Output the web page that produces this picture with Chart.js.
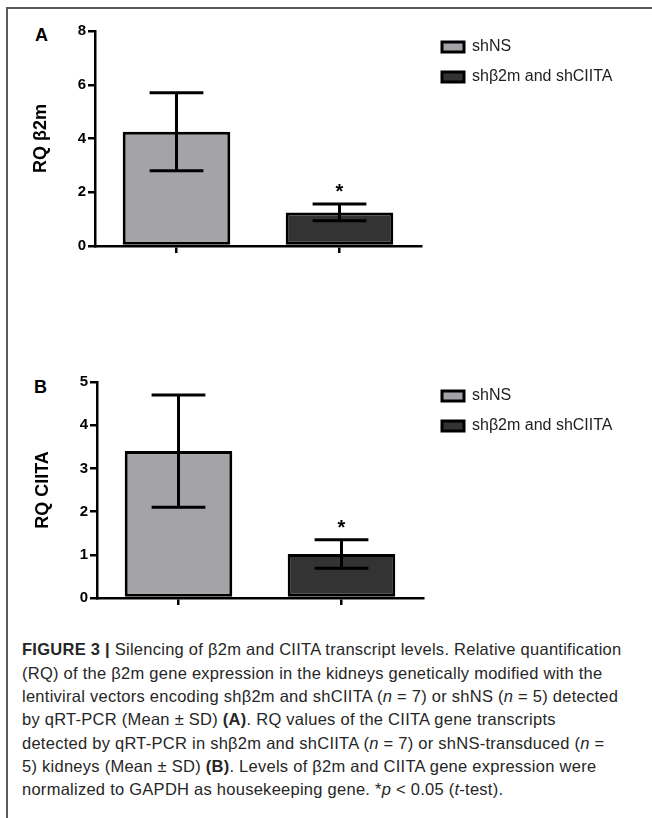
<!DOCTYPE html>
<html><head><meta charset="utf-8">
<script src="https://cdn.jsdelivr.net/npm/chart.js@4.4.1/dist/chart.umd.min.js"></script>
<style>
html,body{margin:0;padding:0;background:#fff;}
#wrap{position:relative;width:652px;height:818px;overflow:hidden;font-family:"Liberation Sans",Arial,sans-serif;}
.frameTop{position:absolute;left:6px;top:7px;width:646px;height:2px;background:#5a5a5a;}
.frameLeft{position:absolute;left:6px;top:7px;width:2px;height:811px;background:#5a5a5a;}
canvas{position:absolute;left:0;}
.panel{position:absolute;font:bold 18px/18px "Liberation Sans",Arial,sans-serif;color:#000;}
.cap{position:absolute;left:22px;white-space:nowrap;font-family:"Liberation Sans",Arial,sans-serif;font-size:16.5px;line-height:20px;color:#262626;}
</style></head><body>
<div id="wrap">
  <div class="frameTop"></div>
  <div class="frameLeft"></div>
  <div class="panel" style="left:35px;top:26px;">A</div>
  <div class="panel" style="left:34px;top:378px;">B</div>
  <canvas id="chartA" width="652" height="280" style="top:0;width:652px;height:280px;"></canvas>
  <canvas id="chartB" width="652" height="290" style="top:340px;width:652px;height:290px;"></canvas>
  <div class="cap" style="top:639px;"><b>FIGURE 3 |</b> Silencing of β2m and CIITA transcript levels. Relative quantification</div>
  <div class="cap" style="top:663px;">(RQ) of the β2m gene expression in the kidneys genetically modified with the</div>
  <div class="cap" style="top:686px;">lentiviral vectors encoding shβ2m and shCIITA (<i>n</i> = 7) or shNS (<i>n</i> = 5) detected</div>
  <div class="cap" style="top:709px;">by qRT-PCR (Mean ± SD) <b>(A)</b>. RQ values of the CIITA gene transcripts</div>
  <div class="cap" style="top:733px;">detected by qRT-PCR in shβ2m and shCIITA (<i>n</i> = 7) or shNS-transduced (<i>n</i> =</div>
  <div class="cap" style="top:756px;">5) kidneys (Mean ± SD) <b>(B)</b>. Levels of β2m and CIITA gene expression were</div>
  <div class="cap" style="top:779px;">normalized to GAPDH as housekeeping gene. *<i>p</i> &lt; 0.05 (<i>t</i>-test).</div>
</div>
<script>
// ---------- data ----------
const groups = ['shNS', 'shβ2m and shCIITA'];
const b2mMean = [4.25, 1.25];
const b2mSD = [1.45, 0.31];
const ciitaMean = [3.4, 1.02];
const ciitaSD = [1.3, 0.33];
const significance = ['', '*'];
const b2mTicks = [0, 2, 4, 6, 8];
const ciitaTicks = [0, 1, 2, 3, 4, 5];

// ---------- caption fitting (layout only: one shared letter-spacing) ----------
const capWidths = [628, 583, 627, 476, 628, 550, 456];
(function () {
  const els = [...document.querySelectorAll('.cap')];
  let sumW = 0, sumT = 0, sumN = 0;
  els.forEach((el, i) => {
    el.style.letterSpacing = '0px';
    sumW += el.getBoundingClientRect().width;
    sumT += capWidths[i];
    sumN += el.textContent.length;
  });
  const ls = (sumT - sumW) / sumN;
  els.forEach(el => { el.style.letterSpacing = ls + 'px'; });
})();

// ---------- plugins ----------
const fixLayout = {
  id: 'fixLayout',
  beforeLayout(chart, args, o) {
    const lg = chart.legend;
    if (lg && !lg.__patched) {
      const f = lg.fit;
      lg.fit = function () { f.call(this); this.width = o.legendWidth; };
      lg.__patched = true;
    }
  },
  afterLayout(chart, args, o) {
    const lg = chart.legend;
    if (!lg) return;
    const dx = o.legendLeft - lg.left, dy = o.legendTop - lg.top;
    lg.left += dx; lg.right += dx; lg.top += dy; lg.bottom += dy;
  }
};

const errorBars = {
  id: 'errorBars',
  afterDatasetsDraw(chart) {
    const ctx = chart.ctx, ys = chart.scales.y;
    chart.data.datasets.forEach((ds, di) => {
      const meta = chart.getDatasetMeta(di);
      meta.data.forEach((bar, i) => {
        const v = ds.data[i];
        if (v == null) return;
        const e = ds.errors[i];
        const yTop = ys.getPixelForValue(v + e), yBot = ys.getPixelForValue(v - e);
        const half = bar.width / 4;
        ctx.save();
        ctx.strokeStyle = '#000';
        ctx.lineWidth = 3;
        ctx.beginPath();
        ctx.moveTo(bar.x, yTop); ctx.lineTo(bar.x, yBot);
        ctx.moveTo(bar.x - half, yTop); ctx.lineTo(bar.x + half, yTop);
        ctx.moveTo(bar.x - half, yBot); ctx.lineTo(bar.x + half, yBot);
        ctx.stroke();
        const mark = ds.marks[i];
        if (mark) {
          ctx.fillStyle = '#000';
          ctx.font = 'bold 20px "Liberation Sans", Arial, sans-serif';
          ctx.textAlign = 'center';
          ctx.textBaseline = 'alphabetic';
          ctx.fillText(mark, bar.x, yTop - 6);
        }
        ctx.restore();
      });
    });
  }
};

const FONT = '"Liberation Sans", Arial, sans-serif';
const fillColors = ['#a4a3a7', '#333333'];

function buildChart(id, means, sds, tickVals, yTitle, L) {
  const datasets = groups.map((g, k) => ({
    label: g,
    data: groups.map((_, i) => (i === k ? means[i] : null)),
    errors: groups.map((_, i) => (i === k ? sds[i] : null)),
    marks: groups.map((_, i) => (i === k ? significance[i] : '')),
    backgroundColor: fillColors[k],
    borderColor: '#000',
    borderWidth: 3,
    borderSkipped: false,
    grouped: false,
    barPercentage: 0.66,
    categoryPercentage: 1
  }));
  return new Chart(document.getElementById(id), {
    type: 'bar',
    data: { labels: groups, datasets },
    options: {
      responsive: false,
      animation: false,
      devicePixelRatio: 1,
      layout: { padding: { top: L.padTop, left: 0, right: 0, bottom: 0 } },
      scales: {
        x: {
          offset: true,
          grid: { display: true, drawOnChartArea: false, drawTicks: true, tickLength: 7, offset: false, color: '#000', lineWidth: 2.5 },
          border: { display: true, color: '#000', width: 2.5 },
          ticks: { display: false },
          afterFit(s) { s.height = L.xAxisH; }
        },
        y: {
          min: tickVals[0],
          max: tickVals[tickVals.length - 1],
          afterBuildTicks(s) { s.ticks = tickVals.map(v => ({ value: v })); },
          grid: { display: true, drawOnChartArea: false, drawTicks: true, tickLength: 7, color: '#000', lineWidth: 2.5 },
          border: { display: true, color: '#000', width: 2.5 },
          ticks: { color: '#000', padding: 2, font: { family: FONT, size: 15, weight: 'bold' } },
          title: { display: true, text: yTitle, color: '#000', font: { family: FONT, size: 18, weight: 'bold' }, padding: { top: L.titlePad, bottom: 0 } },
          afterFit(s) { s.width = L.axisLeft; }
        }
      },
      plugins: {
        tooltip: { enabled: false },
        legend: {
          display: true,
          position: 'right',
          align: 'start',
          labels: { color: '#222', boxWidth: 22, boxHeight: 10, padding: 14, font: { family: FONT, size: 16 } }
        },
        fixLayout: { legendWidth: L.legendWidth, legendLeft: L.legendLeft, legendTop: L.legendTop }
      }
    },
    plugins: [fixLayout, errorBars]
  });
}

buildChart('chartA', b2mMean, b2mSD, b2mTicks, 'RQ β2m',
  { padTop: 31, xAxisH: 34, axisLeft: 95, legendWidth: 231, legendLeft: 428, legendTop: 25, titlePad: 30 });
buildChart('chartB', ciitaMean, ciitaSD, ciitaTicks, 'RQ CIITA',
  { padTop: 42, xAxisH: 32, axisLeft: 97, legendWidth: 229, legendLeft: 428, legendTop: 34, titlePad: 32 });
</script>
</body></html>
